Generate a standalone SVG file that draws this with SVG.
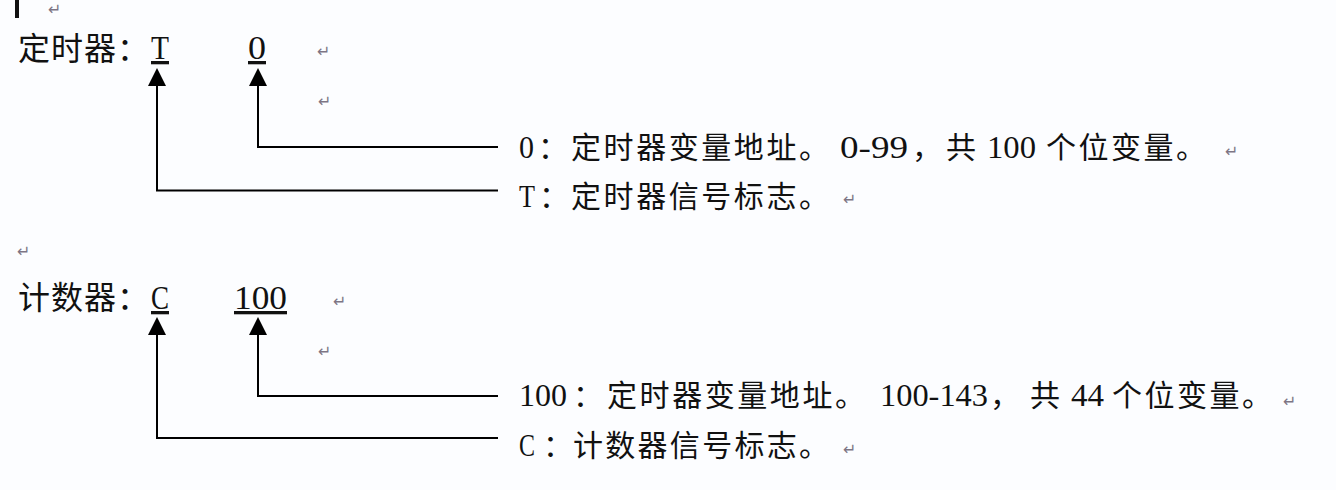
<svg xmlns="http://www.w3.org/2000/svg" width="1336" height="490" viewBox="0 0 1336 490">
<defs>
<style>
.cjk{font-family:"Noto Sans CJK SC","Noto Sans CJK JP",sans-serif;font-size:30px;fill:#111}
.big{font-size:32px;letter-spacing:1px}
.lat{font-family:"Liberation Serif","DejaVu Serif",serif;font-size:31px;fill:#111}
.top{font-size:33px}
.ul{text-decoration:underline}
.mark{font-family:"DejaVu Sans",sans-serif;font-size:16px;fill:#7d7585}
.conn{stroke:#000;stroke-width:2;fill:none;marker-end:url(#arrow)}
</style>
<marker id="arrow" viewBox="0 0 18 18" markerWidth="18" markerHeight="18" refX="0" refY="9" orient="auto" markerUnits="userSpaceOnUse">
<path d="M0,0 L18,9 L0,18 z" fill="#000"/>
</marker>
</defs>
<rect width="1336" height="490" fill="#fcfdff"/>
<rect x="15" y="0" width="4" height="18" fill="#111"/>
<text class="mark" x="48" y="15">↵</text>

<g id="timer">
<text class="cjk big" x="18" y="60">定时器：</text>
<text class="lat top ul" x="151" y="59" textLength="18" lengthAdjust="spacingAndGlyphs">T</text>
<text class="lat top ul" x="248" y="59" textLength="18" lengthAdjust="spacingAndGlyphs">0</text>
<text class="mark" x="317" y="57">↵</text>
<text class="mark" x="318" y="107">↵</text>
</g>

<g id="timer-addr-label">
<text class="lat" x="519" y="158" textLength="15" lengthAdjust="spacingAndGlyphs">0</text>
<text class="cjk" x="538" y="158">：</text>
<text class="cjk" x="571" y="158" textLength="258" lengthAdjust="spacing">定时器变量地址。</text>
<text class="lat" x="840" y="158" textLength="68" lengthAdjust="spacingAndGlyphs">0-99</text>
<text class="cjk" x="912" y="158">，</text>
<text class="cjk" x="946" y="158">共</text>
<text class="lat" x="987" y="158" textLength="49" lengthAdjust="spacingAndGlyphs">100</text>
<text class="cjk" x="1046" y="158" textLength="160" lengthAdjust="spacing">个位变量。</text>
<text class="mark" x="1225" y="157">↵</text>
</g>

<g id="timer-flag-label">
<text class="lat" x="519" y="207" textLength="16" lengthAdjust="spacingAndGlyphs">T</text>
<text class="cjk" x="539" y="207">：</text>
<text class="cjk" x="571" y="207" textLength="258" lengthAdjust="spacing">定时器信号标志。</text>
<text class="mark" x="843" y="205">↵</text>
</g>

<text class="mark" x="17" y="257">↵</text>

<g id="counter">
<text class="cjk big" x="18" y="309">计数器：</text>
<text class="lat top ul" x="151" y="309" textLength="18" lengthAdjust="spacingAndGlyphs">C</text>
<text class="lat top ul" x="234" y="309" textLength="53" lengthAdjust="spacingAndGlyphs">100</text>
<text class="mark" x="333" y="307">↵</text>
<text class="mark" x="318" y="357">↵</text>
</g>

<g id="counter-addr-label">
<text class="lat" x="519" y="406" textLength="48" lengthAdjust="spacingAndGlyphs">100</text>
<text class="cjk" x="573" y="406">：</text>
<text class="cjk" x="607" y="406" textLength="258" lengthAdjust="spacing">定时器变量地址。</text>
<text class="lat" x="880" y="406" textLength="108" lengthAdjust="spacingAndGlyphs">100-143</text>
<text class="cjk" x="990" y="406">，</text>
<text class="cjk" x="1030" y="406">共</text>
<text class="lat" x="1071" y="406" textLength="33" lengthAdjust="spacingAndGlyphs">44</text>
<text class="cjk" x="1112" y="406" textLength="160" lengthAdjust="spacing">个位变量。</text>
<text class="mark" x="1283" y="407">↵</text>
</g>

<g id="counter-flag-label">
<text class="lat" x="519" y="456" textLength="16" lengthAdjust="spacingAndGlyphs">C</text>
<text class="cjk" x="543" y="456">：</text>
<text class="cjk" x="573" y="456" textLength="256" lengthAdjust="spacing">计数器信号标志。</text>
<text class="mark" x="843" y="455">↵</text>
</g>

<g id="connectors">
<path class="conn" d="M498 147 H258 V86"/>
<path class="conn" d="M498 190.5 H157 V86"/>
<path class="conn" d="M498 396 H258 V335"/>
<path class="conn" d="M498 438 H157 V335"/>
</g>
</svg>
